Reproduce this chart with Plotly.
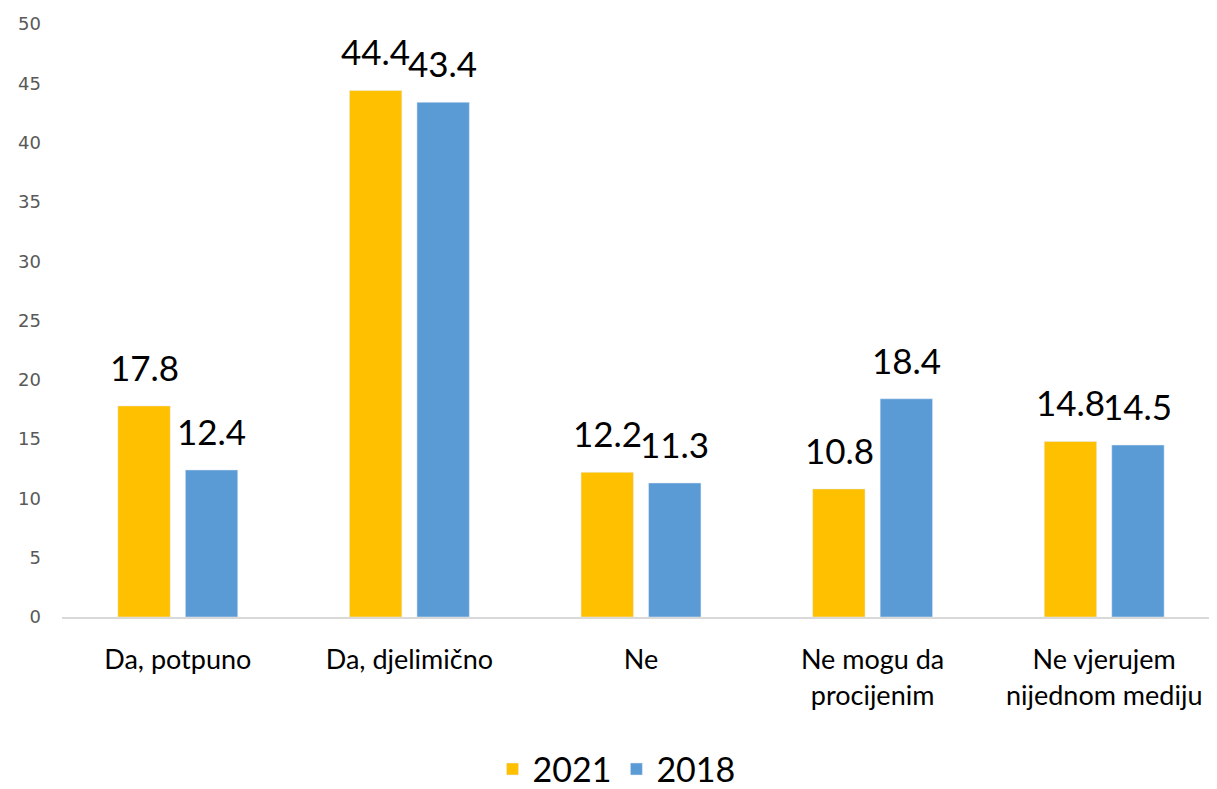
import plotly.graph_objects as go

categories = ["Da, potpuno", "Da, djelimično", "Ne", "Ne mogu da<br>procijenim", "Ne vjerujem<br>nijednom mediju"]
values_2021 = [17.8, 44.4, 12.2, 10.8, 14.8]
values_2018 = [12.4, 43.4, 11.3, 18.4, 14.5]
tick_vals = [0, 5, 10, 15, 20, 25, 30, 35, 40, 45, 50]

label_font = dict(size=35, color="black", family="Lato")
bar_offset_px = 33.5   # half distance between grouped bar centers
label_gap_px = 16

fig = go.Figure()
fig.add_trace(go.Bar(name="2021", x=categories, y=values_2021, marker_color="#FFC000"))
fig.add_trace(go.Bar(name="2018", x=categories, y=values_2018, marker_color="#5B9BD5"))

for series, sign in ((values_2021, -1), (values_2018, 1)):
    for cat, v in zip(categories, series):
        fig.add_annotation(x=cat, y=v, text=f"{v:.1f}", showarrow=False,
                           xshift=sign * bar_offset_px, yshift=label_gap_px,
                           yanchor="bottom", font=label_font)

fig.update_layout(
    width=1217, height=789,
    margin=dict(l=54, r=5, t=16, b=180),
    plot_bgcolor="white", paper_bgcolor="white",
    barmode="group", bargap=0.417, bargroupgap=0.224,
    legend=dict(orientation="h", x=0.5, xanchor="center", xref="container",
                y=0.035, yanchor="middle", yref="container",
                font=dict(size=34, family="Lato", color="black"), itemwidth=30),
    xaxis=dict(showline=True, linecolor="#D9D9D9", linewidth=2, ticks="",
               automargin=False, ticklabelstandoff=18,
               tickfont=dict(size=27, family="Lato", color="black")),
    yaxis=dict(range=[0, 50], tickvals=tick_vals, showgrid=False, zeroline=False,
               showline=False, automargin=False,
               tickfont=dict(size=18, family="DejaVu Sans", color="#595959"),
               ticklabelstandoff=20),
)
fig.write_html("out.html")
